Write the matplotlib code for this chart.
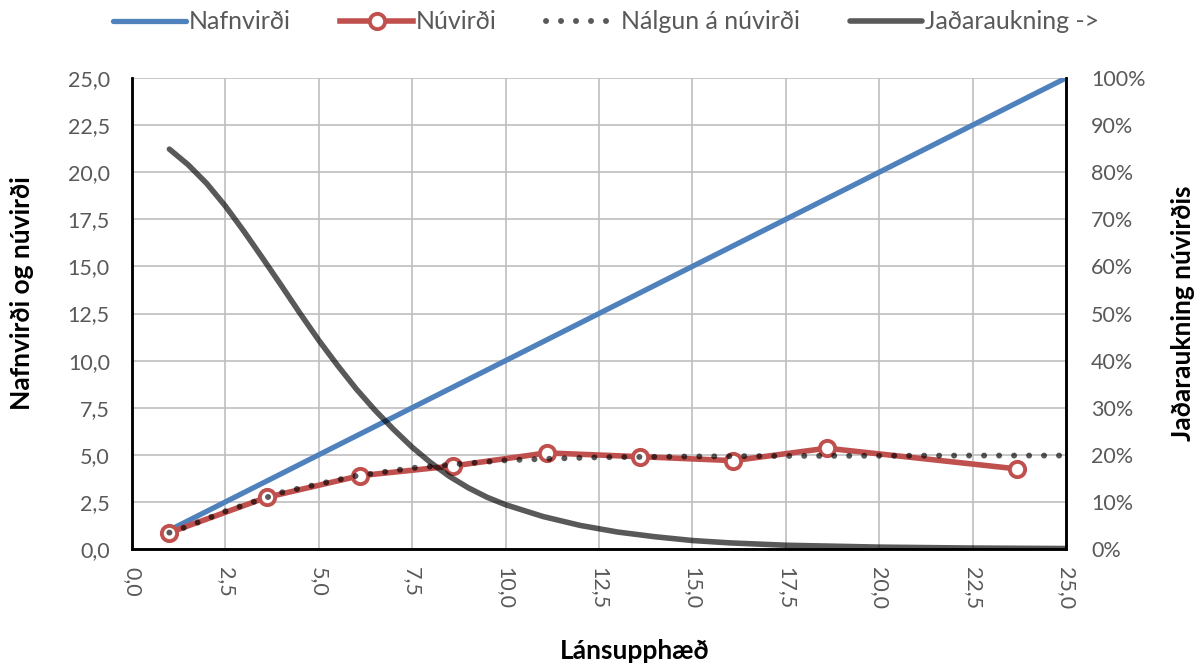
import matplotlib
matplotlib.use("Agg")
import matplotlib.pyplot as plt
from matplotlib.ticker import FuncFormatter, MultipleLocator

# --- data ---
nafn_x = [1.0, 25.0]
nafn_y = [1.0, 25.0]

nuv_x = [1.0, 3.6, 6.1, 8.6, 11.1, 13.6, 16.1, 18.6, 23.7]
nuv_y = [0.87, 2.74, 3.89, 4.41, 5.10, 4.90, 4.69, 5.35, 4.25]

nalg_x = [1.0, 1.5, 2.5, 4.0, 5.0, 6.0, 7.5, 8.75, 10.0, 11.0, 12.5, 15.0, 17.5, 20.0, 22.5, 25.0]
nalg_y = [0.87, 1.2, 2.0, 3.0, 3.45, 3.88, 4.3, 4.51, 4.71, 4.78, 4.87, 4.91, 4.94, 4.95, 4.96, 4.96]

jad_x = [1.0, 1.5, 2.0, 2.5, 3.0, 3.5, 4.0, 4.5, 5.0, 5.5, 6.0, 6.5, 7.0, 7.5, 8.0, 8.5,
         9.0, 9.5, 10.0, 11.0, 12.0, 13.0, 14.0, 15.0, 16.0, 17.5, 20.0, 22.5, 25.0]
jad_y = [84.9, 81.6, 77.6, 72.8, 67.4, 61.7, 55.9, 50.0, 44.3, 39.0, 34.0, 29.5, 25.4, 21.6,
         18.3, 15.4, 13.0, 11.0, 9.4, 6.9, 5.0, 3.6, 2.6, 1.8, 1.3, 0.8, 0.4, 0.2, 0.1]

labels = ["Nafnvirði", "Núvirði", "Nálgun á núvirði", "Jaðaraukning ->"]

plt.rcParams['font.family'] = ['Lato', 'DejaVu Sans']
tick_grey = "#595959"

fig = plt.figure(figsize=(11.98, 6.64), dpi=100)
ax = fig.add_axes([0.1102, 0.1732, 0.7796, 0.7093])
ax2 = ax.twinx()

comma = FuncFormatter(lambda v, p: f"{v:.1f}".replace(".", ","))

ax.set_xlim(0, 25)
ax.set_ylim(0, 25)
ax.xaxis.set_major_locator(MultipleLocator(2.5))
ax.yaxis.set_major_locator(MultipleLocator(2.5))
ax.xaxis.set_major_formatter(comma)
ax.yaxis.set_major_formatter(comma)
ax.grid(True, color="#BFBFBF", lw=1.2)
ax.set_axisbelow(True)

ax2.set_ylim(0, 100)
ax2.yaxis.set_major_locator(MultipleLocator(10))
ax2.yaxis.set_major_formatter(FuncFormatter(lambda v, p: f"{v:.0f}%"))

for a in (ax, ax2):
    a.tick_params(length=0, labelsize=15.5, labelcolor=tick_grey)
    a.spines['top'].set_visible(False)
    for s in ('left', 'bottom', 'right'):
        a.spines[s].set_color("black")
        a.spines[s].set_linewidth(1.8)
ax.tick_params(axis='x', labelrotation=-90, pad=13)
ax.tick_params(axis='y', pad=16)
ax2.tick_params(axis='y', pad=18)

h1, = ax.plot(nafn_x, nafn_y, color="#4F81BD", lw=3.8, solid_capstyle='round', zorder=3)
h2, = ax.plot(nuv_x, nuv_y, color="#C0504D", lw=4.0, marker='o', ms=11,
              mfc="white", mec="#C0504D", mew=2.8, zorder=4)
h3, = ax.plot(nalg_x, nalg_y, color="black", alpha=0.65, lw=4.3,
              linestyle=(0, (0.01, 2.5)), dash_capstyle='round', zorder=5)
h4, = ax2.plot(jad_x, jad_y, color="black", alpha=0.65, lw=4.0,
               solid_capstyle='round', solid_joinstyle='round', zorder=5)

# axis titles placed in figure coordinates
fig.text(0.0184, 0.5587, "Nafnvirði og núvirði", rotation=90, ha='center', va='center',
         fontsize=19, fontweight='bold')
fig.text(0.9875, 0.5286, "Jaðaraukning núvirðis", rotation=90, ha='center', va='center',
         fontsize=19, fontweight='bold')
fig.text(0.530, 0.0196, "Lánsupphæð", ha='center', va='center',
         fontsize=19, fontweight='bold')

fig.legend([h1, h2, h3, h4], labels, loc='center', bbox_to_anchor=(0.506, 0.967),
           ncol=4, frameon=False, fontsize=18, handlelength=2.9, handletextpad=0.1,
           columnspacing=2.0, labelcolor=tick_grey, borderaxespad=0)

fig.savefig("out.png", dpi=100)
